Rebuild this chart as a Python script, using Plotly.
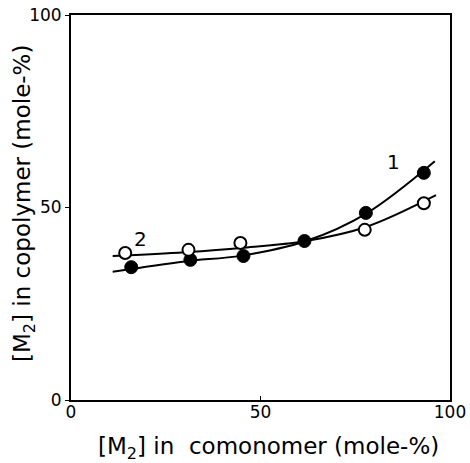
import plotly.graph_objects as go

# Data points
x1 = [15.9, 31.5, 45.5, 61.6, 77.8, 93.1]
y1 = [34.5, 36.4, 37.4, 41.3, 48.6, 59.0]
x2 = [14.3, 31.0, 44.7, 77.5, 93.1]
y2 = [38.2, 39.0, 40.8, 44.2, 51.1]

# Drawn curves
cx1 = [11, 30, 45, 62, 78, 96]
cy1 = [33.3, 36.0, 37.5, 41.3, 48.5, 62.0]
cx2 = [11, 30, 45, 62, 78, 96.3]
cy2 = [37.4, 38.4, 39.5, 41.3, 45.0, 53.2]

labels = ["1", "2"]
label_x = [85.2, 18.3]
label_y = [61.8, 41.8]

x_title = "[M<sub>2</sub>] in  comonomer (mole-%)"
y_title = "[M<sub>2</sub>] in copolymer (mole-%)"

fig = go.Figure()
fig.add_trace(go.Scatter(x=cx1, y=cy1, mode="lines", line=dict(color="black", width=2, shape="spline"), showlegend=False))
fig.add_trace(go.Scatter(x=cx2, y=cy2, mode="lines", line=dict(color="black", width=2, shape="spline"), showlegend=False))
fig.add_trace(go.Scatter(x=x1, y=y1, mode="markers", marker=dict(color="black", size=13, line=dict(color="black", width=1)), showlegend=False))
fig.add_trace(go.Scatter(x=x2, y=y2, mode="markers", marker=dict(color="white", size=12, line=dict(color="black", width=2)), showlegend=False))

for t, lx, ly in zip(labels, label_x, label_y):
    fig.add_annotation(x=lx, y=ly, text=t, showarrow=False, font=dict(size=20, color="black", family="DejaVu Sans"))

title_font = dict(size=23, color="black", family="DejaVu Sans")
fig.add_annotation(xref="paper", yref="paper", x=0.52, y=-0.125, text=x_title, showarrow=False,
                   xanchor="center", yanchor="middle", font=title_font)
fig.add_annotation(xref="paper", yref="paper", x=-0.124, y=0.509, text=y_title, showarrow=False,
                   xanchor="center", yanchor="middle", textangle=-90, font=title_font)

axis_common = dict(range=[0, 100], tickvals=[0, 50, 100], showgrid=False, zeroline=False,
                   showline=True, linecolor="black", linewidth=2, mirror=True, automargin=False,
                   tickfont=dict(size=17, color="black", family="DejaVu Sans"),
                   ticklen=4, tickcolor="black", tickwidth=1)

fig.update_layout(
    width=470, height=463,
    margin=dict(l=71, r=20, t=15, b=63),
    plot_bgcolor="white", paper_bgcolor="white",
    xaxis=dict(**axis_common, ticks="inside", ticklabelstandoff=-4),
    yaxis=dict(**axis_common, ticks="outside"),
)

fig.write_html("out.html", post_script="document.body.style.margin='0';",
               config={"displayModeBar": False})
